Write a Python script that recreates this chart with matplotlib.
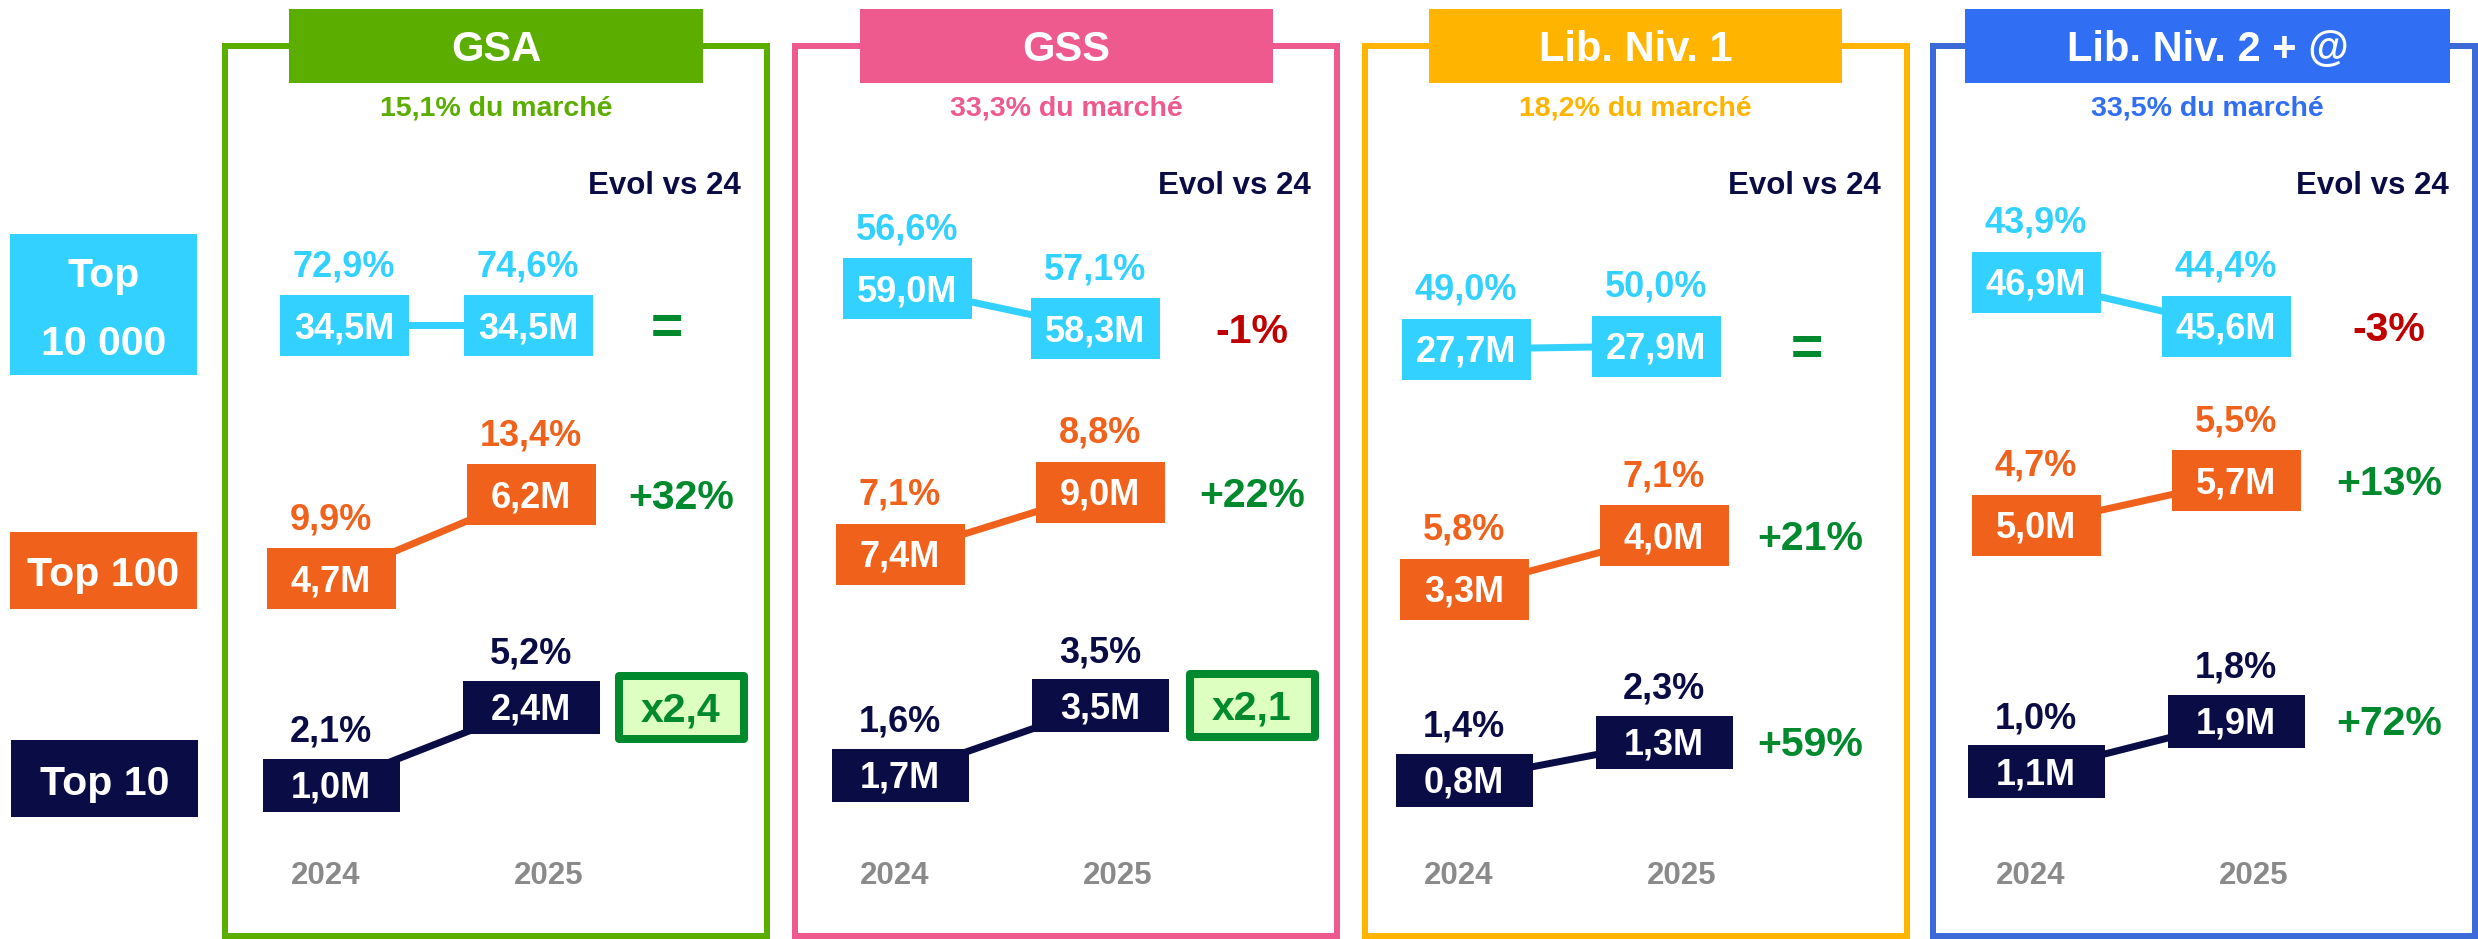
import matplotlib
matplotlib.use("Agg")
import matplotlib.pyplot as plt
from matplotlib.path import Path
from matplotlib.patches import Rectangle
import matplotlib.transforms as mtransforms

plt.rcParams['font.family'] = ['Liberation Sans', 'DejaVu Sans']

# ---------------- data ----------------
panels = ["GSA", "GSS", "Lib. Niv. 1", "Lib. Niv. 2 + @"]
market_share = ["15,1% du marché", "33,3% du marché", "18,2% du marché", "33,5% du marché"]
years = ["2024", "2025"]
row_labels = [["Top", "10 000"], ["Top 100"], ["Top 10"]]
evol_header = "Evol vs 24"

top10000_vol = [[34.5, 34.5], [59.0, 58.3], [27.7, 27.9], [46.9, 45.6]]
top10000_pct = [[72.9, 74.6], [56.6, 57.1], [49.0, 50.0], [43.9, 44.4]]
top100_vol = [[4.7, 6.2], [7.4, 9.0], [3.3, 4.0], [5.0, 5.7]]
top100_pct = [[9.9, 13.4], [7.1, 8.8], [5.8, 7.1], [4.7, 5.5]]
top10_vol = [[1.0, 2.4], [1.7, 3.5], [0.8, 1.3], [1.1, 1.9]]
top10_pct = [[2.1, 5.2], [1.6, 3.5], [1.4, 2.3], [1.0, 1.8]]
evol_top10000 = ["=", "-1%", "=", "-3%"]
evol_top100 = ["+32%", "+22%", "+21%", "+13%"]
evol_top10 = ["x2,4", "x2,1", "+59%", "+72%"]

# ---------------- layout / style ----------------
W, H, DPI = 2478, 939, 100
PT = 72.0 / DPI  # points per pixel
CAP = 0.716

C_LB = "#33D1FF"
C_OR = "#F0611C"
C_NV = "#0A0C46"
C_GR = "#00892D"
C_RED = "#C00000"
C_GREY = "#8A8A8A"
C_BOXFILL = "#DDFFBF"
head_colors = ["#5BAD00", "#EE5A8E", "#FFB400", "#306EF3"]
border_colors = ["#5BAD00", "#EE5A8E", "#FFB400", "#3C6AD6"]

panel_left = [225, 795, 1365, 1933]
panel_width = 542
panel_top, panel_bottom = 46, 936
header_x = [(289, 703), (860, 1273), (1429, 1842), (1965, 2450)]
header_y = (9, 83)

X0_main = [331, 900, 1464, 2036]
UNIT_main = 200
ymax_main = [13.8, 19.9, 10.1, 12.2]
X0_t = [344, 907, 1466, 2036]
UNIT_t = [184, 188, 190, 190]
ylim_t = [(21.61, 40.91), (49.32, 62.84), (-5.1, 46.37), (30.36, 53.2)]
AX_TOP, AX_BOT = 69, 841
evol_x = [1.75, 1.76, 1.73, 1.765]
evol_x_t = [1.68, 1.76, 1.715, 1.765]

FS_HEAD, FS_MKT, FS_EVH, FS_PCT, FS_BOX, FS_EVO, FS_YEAR, FS_ROW = 30, 20.5, 22.5, 26, 26, 29.5, 22.5, 29.5

fig = plt.figure(figsize=(W / DPI, H / DPI), dpi=DPI)
fig.patch.set_facecolor("white")


def fx(px):
    return px / W


def fy(py):
    return 1 - py / H


def cap_half_px(size):
    return CAP * size / PT / 2.0


def ftext(x, yc, s, size, color, ha="center"):
    fig.text(fx(x), fy(yc + cap_half_px(size)), s, ha=ha, va="baseline",
             fontsize=size, color=color, fontweight="bold")


def frect(x0, y0, x1, y1, **kw):
    r = Rectangle((fx(x0), fy(y1)), fx(x1) - fx(x0), (y1 - y0) / H,
                  transform=fig.transFigure, **kw)
    fig.add_artist(r)


def rect_marker(w, h):
    verts = [(-w / 2, -h / 2), (w / 2, -h / 2), (w / 2, h / 2), (-w / 2, h / 2), (0, 0)]
    codes = [Path.MOVETO, Path.LINETO, Path.LINETO, Path.LINETO, Path.CLOSEPOLY]
    return Path(verts, codes)


def fmt(v, suffix):
    return f"{v:.1f}".replace(".", ",") + suffix


# ---------------- row labels (left) ----------------
frect(10, 234, 197, 375, facecolor=C_LB, edgecolor="none")
ftext(103.5, 272, row_labels[0][0], FS_ROW, "white")
ftext(103.5, 340, row_labels[0][1], FS_ROW, "white")
frect(10, 532, 197, 609, facecolor=C_OR, edgecolor="none")
ftext(103.5, 571, row_labels[1][0], FS_ROW, "white")
frect(11, 740, 198, 817, facecolor=C_NV, edgecolor="none")
ftext(104.5, 780, row_labels[2][0], FS_ROW, "white")

# ---------------- panels ----------------
row_specs = [
    # (vol, pct, color, box w, box h, label offset px, evol, evol x)
    (top100_vol, top100_pct, C_OR, 129, 61, 62, evol_top100, evol_x),
    (top10_vol, top10_pct, C_NV, 137, 53, 56, evol_top10, evol_x),
]

for p in range(4):
    L = panel_left[p]
    R = L + panel_width
    # border
    frect(L, panel_top, R, panel_bottom, facecolor="none",
          edgecolor=border_colors[p], linewidth=6 * PT)
    # header
    hx0, hx1 = header_x[p]
    frect(hx0, header_y[0], hx1, header_y[1], facecolor=head_colors[p], edgecolor="none")
    hc = (hx0 + hx1) / 2
    ftext(hc, 46, panels[p], FS_HEAD, "white")
    ftext(hc, 105, market_share[p], FS_MKT, head_colors[p])
    ftext(R - 26, 183, evol_header, FS_EVH, C_NV, ha="right")

    # main axes (Top 100 / Top 10)
    ax = fig.add_axes([fx(X0_main[p] - 0.5 * UNIT_main), fy(AX_BOT),
                       2.5 * UNIT_main / W, (AX_BOT - AX_TOP) / H])
    ax.set_xlim(-0.5, 2.0)
    ax.set_ylim(0, ymax_main[p])
    ax.set_axis_off()
    ax.patch.set_alpha(0)

    # Top 10 000 axes
    at = fig.add_axes([fx(X0_t[p] - 0.5 * UNIT_t[p]), fy(AX_BOT),
                       2.5 * UNIT_t[p] / W, (AX_BOT - AX_TOP) / H])
    at.set_xlim(-0.5, 2.0)
    at.set_ylim(*ylim_t[p])
    at.set_axis_off()
    at.patch.set_alpha(0)

    rows = [(at, top10000_vol, top10000_pct, C_LB, 129, 61, 62, evol_top10000, evol_x_t)]
    rows += [(ax,) + spec for spec in row_specs]

    for r_i, (a, vol, pct, col, bw, bh, off, evol, ex_list) in enumerate(rows):
        xs = [0, 1]
        ys = vol[p]
        a.plot(xs, ys, color=col, lw=7 * PT, marker=rect_marker(bw, bh),
               markersize=bw * PT, markerfacecolor=col, markeredgewidth=0,
               clip_on=False, solid_capstyle="butt", zorder=2)
        for i in range(2):
            a.annotate(fmt(ys[i], "M"), (xs[i], ys[i]),
                       xytext=(0, -cap_half_px(FS_BOX) * PT), textcoords="offset points",
                       ha="center", va="baseline", color="white", fontsize=FS_BOX,
                       fontweight="bold", zorder=5, annotation_clip=False)
            a.annotate(fmt(pct[p][i], "%"), (xs[i], ys[i]),
                       xytext=(0, (off - cap_half_px(FS_PCT)) * PT), textcoords="offset points",
                       ha="center", va="baseline", color=col, fontsize=FS_PCT,
                       fontweight="bold", zorder=5, annotation_clip=False)
        # evolution
        tr = mtransforms.blended_transform_factory(ax.transData, a.transData)
        e = evol[p]
        ex = ex_list[p]
        if e.startswith("x"):
            a.plot([ex], [ys[1]], transform=tr, linestyle="none",
                   marker=rect_marker(125, 63), markersize=125 * PT,
                   markerfacecolor=C_BOXFILL, markeredgecolor=C_GR,
                   markeredgewidth=8 * PT, clip_on=False, zorder=3)
            ecol = C_GR
        elif e.startswith("-"):
            ecol = C_RED
        else:
            ecol = C_GR
        if e == "=":
            fs = 40
            dy = -0.34 * fs / PT
        else:
            fs = FS_EVO
            dy = -cap_half_px(fs)
        a.annotate(e, (ex, ys[1]), xycoords=tr,
                   xytext=(0, dy * PT), textcoords="offset points",
                   ha="center", va="baseline", color=ecol, fontsize=fs,
                   fontweight="bold", zorder=6, annotation_clip=False)

    # years
    ytr = mtransforms.blended_transform_factory(ax.transData, fig.transFigure)
    for xv, yr in zip([-0.025, 1.09], years):
        ax.text(xv, fy(873 + cap_half_px(FS_YEAR)), yr, transform=ytr,
                ha="center", va="baseline", color=C_GREY, fontsize=FS_YEAR,
                fontweight="bold")

fig.savefig("out.png", dpi=DPI)
